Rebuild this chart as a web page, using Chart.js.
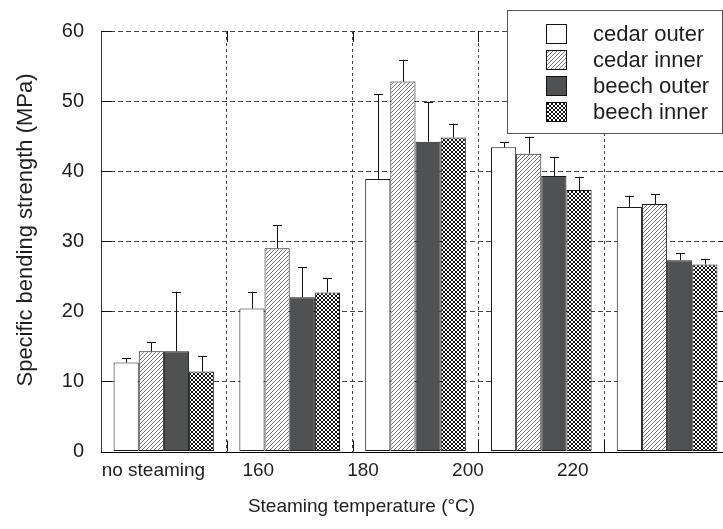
<!DOCTYPE html>
<html>
<head>
<meta charset="utf-8">
<script src="https://cdn.jsdelivr.net/npm/chart.js@4.4.1/dist/chart.umd.min.js"></script>
<style>
    html, body { margin: 0; padding: 0; background: #fff; overflow: hidden; }
    #wrap { width: 740px; height: 529px; }
</style>
</head>
<body>
<div id="wrap"><canvas id="barChart" width="740" height="529"></canvas></div>
<script>
// Data ----------
var categories = ["no steaming", "160", "180", "200", "220"];
var tickLabels = ["no steaming", "160", "180", "200", "220", ""];
var seriesNames = ["cedar outer", "cedar inner", "beech outer", "beech inner"];

// mean values (MPa)
var cedarOuter = [12.7, 20.4, 38.9, 43.4, 34.9];
var cedarInner = [14.3, 29.0, 52.8, 42.5, 35.3];
var beechOuter = [14.3, 22.0, 44.2, 39.3, 27.3];
var beechInner = [11.4, 22.7, 44.8, 37.3, 26.7];

// standard deviations, drawn upward only
var cedarOuterSd = [0.6, 2.4, 12.1, 0.7, 1.6];
var cedarInnerSd = [1.3, 3.3, 3.1, 2.4, 1.4];
var beechOuterSd = [8.5, 4.3, 5.7, 2.7, 1.0];
var beechInnerSd = [2.2, 2.0, 2.0, 1.9, 0.8];

var yTicks = [0, 10, 20, 30, 40, 50, 60];

var FONT = "'Liberation Sans', Arial, sans-serif";
var TEXT = "#1e1e1e";


// Fill patterns ----------
function makeTile(size, draw) {
    var c = document.createElement("canvas");
    c.width = size;
    c.height = size;
    var g = c.getContext("2d");
    g.fillStyle = "#fff";
    g.fillRect(0, 0, size, size);
    draw(g, size);
    return document.createElement("canvas").getContext("2d").createPattern(c, "repeat");
}

// "/" hatching
var hatchPattern = makeTile(4, function (g, s) {
    g.strokeStyle = "#6a6a6a";
    g.lineWidth = 0.9;
    for (var k = -1; k <= 2; k++) {
        g.beginPath();
        g.moveTo(k * s - s, s + s);
        g.lineTo(k * s + s + s, -s);
        g.stroke();
    }
});

// diagonal cross hatching
var crossPattern = makeTile(4, function (g, s) {
    g.strokeStyle = "#111";
    g.lineWidth = 1.0;
    for (var k = -2; k <= 2; k++) {
        g.beginPath();
        g.moveTo(k * s - s, s + s);
        g.lineTo(k * s + s + s, -s);
        g.stroke();
        g.beginPath();
        g.moveTo(k * s - s, -s);
        g.lineTo(k * s + s + s, s + s);
        g.stroke();
    }
});


// Plugins ----------
// upward error bars with caps
var errorBars = {
    id: "errorBars",
    afterDatasetsDraw: function (chart) {
        var ctx = chart.ctx;
        var y = chart.scales.y;
        ctx.save();
        ctx.strokeStyle = "#111";
        ctx.lineWidth = 1;
        chart.data.datasets.forEach(function (ds, di) {
            var meta = chart.getDatasetMeta(di);
            meta.data.forEach(function (bar, i) {
                var top = y.getPixelForValue(ds.data[i] + ds.sd[i]);
                var x = Math.round(bar.x) + 0.5;
                ctx.beginPath();
                ctx.moveTo(x, bar.y);
                ctx.lineTo(x, top);
                ctx.moveTo(x - 4.5, Math.round(top) + 0.5);
                ctx.lineTo(x + 4.5, Math.round(top) + 0.5);
                ctx.stroke();
            });
        });
        ctx.restore();
    }
};

// short tick marks pointing into the plot, plus the solid base line
var innerTicks = {
    id: "innerTicks",
    beforeDatasetsDraw: function (chart) {
        var ctx = chart.ctx;
        var a = chart.chartArea;
        var x = chart.scales.x;
        var y = chart.scales.y;
        var len = 11;
        ctx.save();
        ctx.strokeStyle = "#111";
        ctx.lineWidth = 1;
        ctx.beginPath();
        y.ticks.forEach(function (t) {
            var py = Math.round(y.getPixelForValue(t.value)) + 0.5;
            ctx.moveTo(a.left, py);
            ctx.lineTo(a.left + len, py);
            ctx.moveTo(a.right, py);
            ctx.lineTo(a.right - len, py);
        });
        for (var i = 1; i < categories.length; i++) {
            var px = Math.round(x.getPixelForValue(i - 0.5)) + 0.5;
            ctx.moveTo(px, a.bottom);
            ctx.lineTo(px, a.bottom - len);
            ctx.moveTo(px, a.top);
            ctx.lineTo(px, a.top + len);
        }
        ctx.stroke();
        ctx.restore();
    },
    afterDatasetsDraw: function (chart) {
        var ctx = chart.ctx;
        var a = chart.chartArea;
        var py = Math.round(chart.scales.y.getPixelForValue(0)) + 0.5;
        ctx.save();
        ctx.strokeStyle = "#000";
        ctx.lineWidth = 1;
        ctx.beginPath();
        ctx.moveTo(a.left, py);
        ctx.lineTo(a.right, py);
        ctx.stroke();
        ctx.restore();
    }
};

// boxed legend in the upper right corner
var boxLegend = {
    id: "boxLegend",
    afterDraw: function (chart, args, opts) {
        var ctx = chart.ctx;
        ctx.save();
        ctx.fillStyle = "#fff";
        ctx.fillRect(opts.left, opts.top, opts.width, opts.height);
        ctx.strokeStyle = "#555";
        ctx.lineWidth = 1;
        ctx.strokeRect(opts.left + 0.5, opts.top + 0.5, opts.width, opts.height);
        ctx.font = opts.fontSize + "px " + FONT;
        ctx.textBaseline = "middle";
        ctx.textAlign = "left";
        chart.data.datasets.forEach(function (ds, i) {
            var sy = opts.top + opts.firstRow + i * opts.rowGap;
            ctx.fillStyle = ds.backgroundColor;
            ctx.fillRect(opts.swatchX, sy, opts.swatchW, opts.swatchH);
            ctx.strokeStyle = "#111";
            ctx.strokeRect(opts.swatchX + 0.5, sy + 0.5, opts.swatchW - 1, opts.swatchH - 1);
            ctx.fillStyle = TEXT;
            ctx.fillText(ds.label, opts.textX, sy + opts.swatchH / 2 + 1);
        });
        ctx.restore();
    }
};

// axis titles
var axisTitles = {
    id: "axisTitles",
    afterDraw: function (chart, args, opts) {
        var ctx = chart.ctx;
        ctx.save();
        ctx.fillStyle = TEXT;
        ctx.textAlign = "center";
        ctx.textBaseline = "alphabetic";
        ctx.font = opts.xSize + "px " + FONT;
        ctx.fillText(opts.xText, opts.xX, opts.xY);
        ctx.translate(opts.yX, opts.yY);
        ctx.rotate(-Math.PI / 2);
        ctx.font = opts.ySize + "px " + FONT;
        ctx.fillText(opts.yText, 0, 0);
        ctx.restore();
    }
};


// Chart ----------
var data = {
    labels: categories,
    datasets: [
        { label: seriesNames[0], data: cedarOuter, sd: cedarOuterSd, backgroundColor: "#ffffff" },
        { label: seriesNames[1], data: cedarInner, sd: cedarInnerSd, backgroundColor: hatchPattern },
        { label: seriesNames[2], data: beechOuter, sd: beechOuterSd, backgroundColor: "#4f5153" },
        { label: seriesNames[3], data: beechInner, sd: beechInnerSd, backgroundColor: crossPattern }
    ].map(function (d) {
        d.xAxisID = "x";
        d.yAxisID = "y";
        d.borderColor = "#1a1a1a";
        d.borderWidth = 1;
        d.borderSkipped = false;
        d.barPercentage = 1.0;
        d.categoryPercentage = 0.8;
        return d;
    })
};

var ctx = document.getElementById("barChart").getContext("2d");

var myBarChart = new Chart(ctx, {
    type: "bar",
    data: data,
    plugins: [innerTicks, errorBars, boxLegend, axisTitles],
    options: {
        responsive: false,
        animation: false,
        events: [],
        layout: { padding: { top: 31, right: 10, left: 0, bottom: 0 } },
        plugins: {
            legend: { display: false },
            tooltip: { enabled: false },
            boxLegend: {
                left: 507, top: 10, width: 215, height: 123,
                swatchX: 546, swatchW: 21, swatchH: 20,
                firstRow: 14, rowGap: 26, textX: 593, fontSize: 22
            },
            axisTitles: {
                xText: "Steaming temperature (°C)", xSize: 19, xX: 361.5, xY: 512,
                yText: "Specific bending strength (MPa)", ySize: 22, yX: 31.5, yY: 230
            }
        },
        scales: {
            x: {
                type: "category",
                position: "bottom",
                weight: 0,
                offset: true,
                grid: { offset: true, color: "#444", lineWidth: 1, drawTicks: false },
                border: { display: false, dash: [3, 3] },
                ticks: { display: false },
                afterFit: function (s) { s.height = 0; }
            },
            xLabels: {
                type: "category",
                axis: "x",
                position: "bottom",
                weight: 1,
                labels: tickLabels,
                offset: true,
                grid: { display: false, drawTicks: false },
                border: { display: false },
                ticks: { color: TEXT, font: { family: FONT, size: 19 }, padding: 8, maxRotation: 0, autoSkip: false },
                afterFit: function (s) { s.height = 77.5; }
            },
            y: {
                min: 0,
                max: 60,
                afterBuildTicks: function (s) {
                    s.ticks = yTicks.map(function (v) { return { value: v }; });
                },
                grid: {
                    drawTicks: false,
                    lineWidth: 1,
                    color: function (c) { return c.tick && c.tick.value === 0 ? "rgba(0,0,0,0)" : "#444"; }
                },
                border: { display: true, color: "#333", width: 1, dash: [5, 3] },
                ticks: { color: TEXT, font: { family: FONT, size: 20 }, padding: 17 },
                afterFit: function (s) { s.width = 101; }
            }
        }
    }
});
</script>
</body>
</html>
